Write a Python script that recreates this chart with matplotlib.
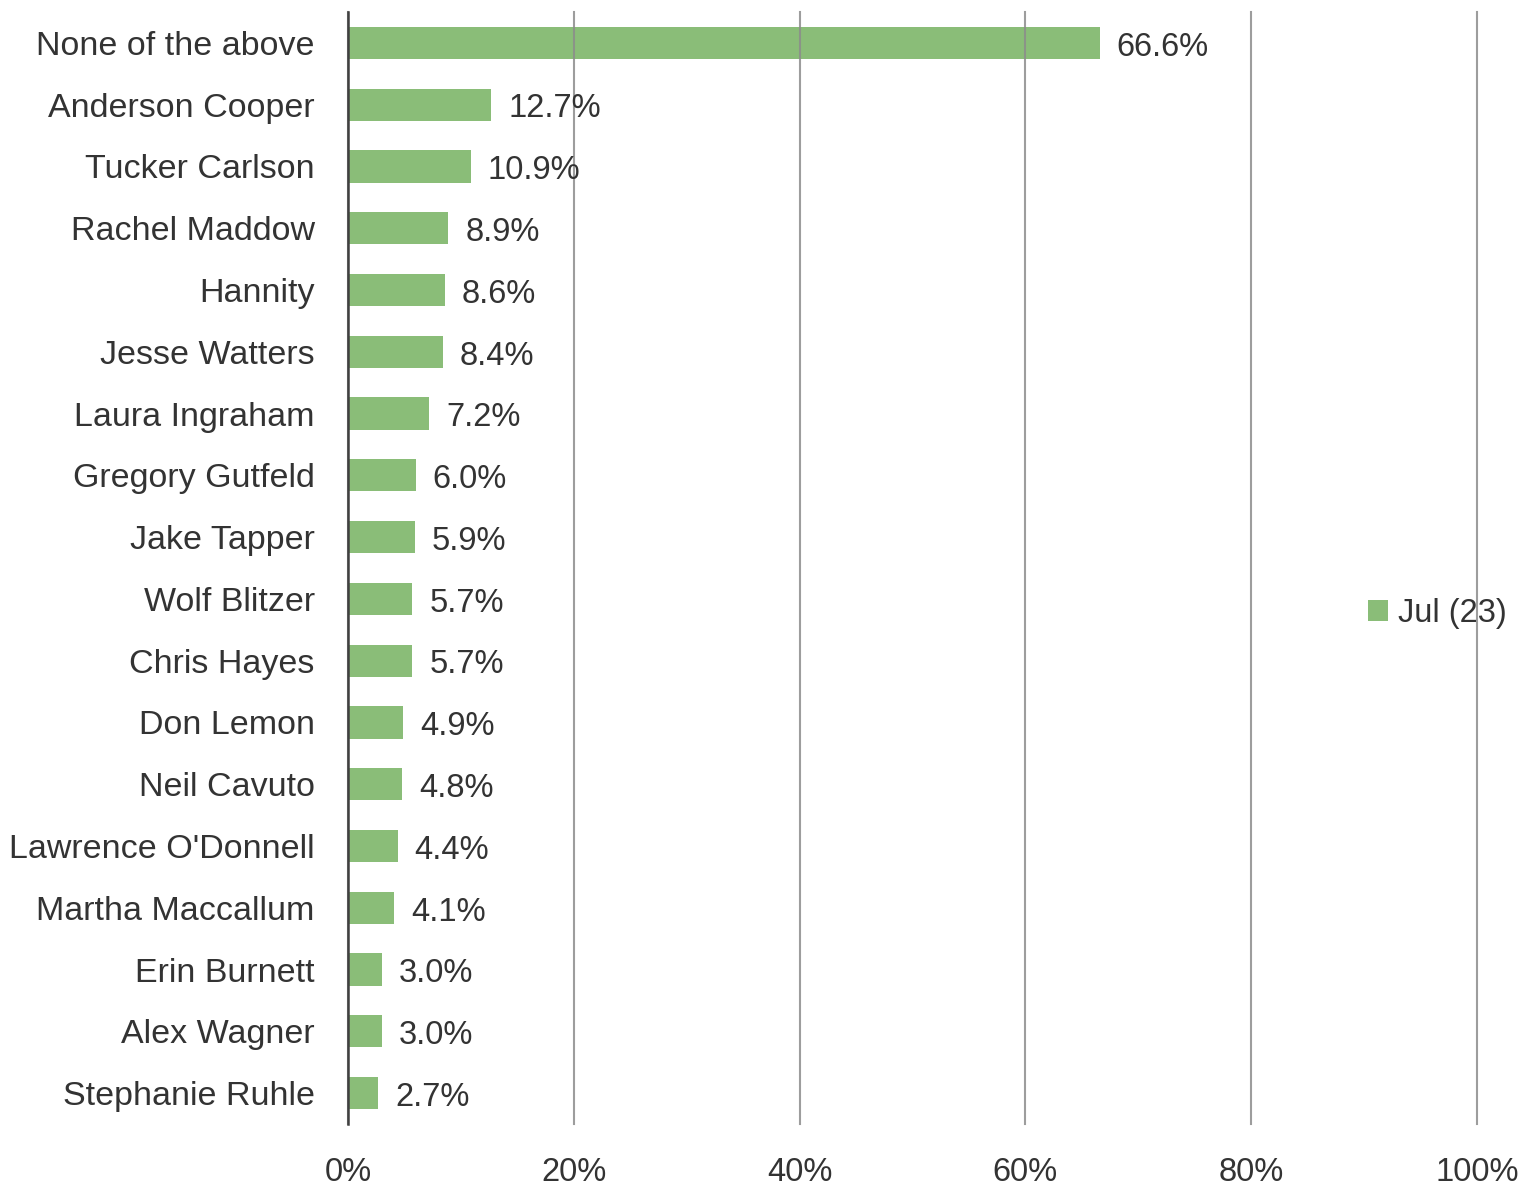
import matplotlib.pyplot as plt
from matplotlib.ticker import FuncFormatter

plt.rcParams['font.family'] = ['Liberation Sans', 'DejaVu Sans']

names = ['None of the above', 'Anderson Cooper', 'Tucker Carlson', 'Rachel Maddow',
         'Hannity', 'Jesse Watters', 'Laura Ingraham', 'Gregory Gutfeld',
         'Jake Tapper', 'Wolf Blitzer', 'Chris Hayes', 'Don Lemon', 'Neil Cavuto',
         "Lawrence O'Donnell", 'Martha Maccallum', 'Erin Burnett', 'Alex Wagner',
         'Stephanie Ruhle']
jul23 = [66.6, 12.7, 10.9, 8.9, 8.6, 8.4, 7.2, 6.0, 5.9, 5.7, 5.7, 4.9, 4.8,
         4.4, 4.1, 3.0, 3.0, 2.7]
series_name = 'Jul (23)'

green = '#8abd78'
txt = '#333333'
fs = 23.5

fig = plt.figure(figsize=(15.4, 11.86), dpi=100)
ax = fig.add_axes([348 / 1540, 62 / 1186, 1129 / 1540, 1112 / 1186])

ypos = list(range(len(names)))
bars = ax.barh(ypos, jul23, height=0.52, color=green, label=series_name, zorder=1)
for y, v in zip(ypos, jul23):
    ax.text(v + 1.5, y + 0.07, f'{v:.1f}%', va='center', ha='left',
            fontsize=fs, color=txt)

ax.set_xlim(0, 100)
ax.set_ylim(len(names) - 0.5, -0.5)
ax.set_yticks(ypos)
ax.set_yticklabels(names, fontsize=24.5, color=txt)
ax.set_xticks([0, 20, 40, 60, 80, 100])
ax.xaxis.set_major_formatter(FuncFormatter(lambda v, p: f'{v:.0f}%'))
ax.tick_params(axis='x', length=0, pad=24, labelsize=fs, labelcolor=txt)
ax.tick_params(axis='y', length=0, pad=24)

ax.set_axisbelow(False)
ax.grid(axis='x', color='#8c8c8c', linewidth=1.5, alpha=0.85)
ax.grid(axis='y', visible=False)
for gl in ax.get_xgridlines():
    gl.set_clip_on(False)
for s in ['top', 'right', 'bottom']:
    ax.spines[s].set_visible(False)
ax.spines['left'].set_color('#404040')
ax.spines['left'].set_linewidth(1.8)
ax.spines['left'].set_zorder(4)

leg = ax.legend(loc='center left', bbox_to_anchor=((1368 - 348) / 1129, 0.459),
                frameon=False, fontsize=fs, handlelength=0.62, handleheight=0.62,
                handletextpad=0.3, borderaxespad=0, borderpad=0, labelcolor=txt)
leg.set_zorder(0.5)

fig.savefig('out.png', dpi=100)
